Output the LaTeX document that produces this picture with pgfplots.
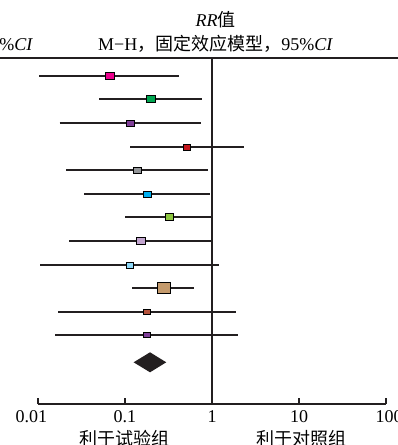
\documentclass[border=0pt]{standalone}
\usepackage{fontspec}
\setmainfont{Liberation Serif}
\newfontfamily\cjk{Noto Sans CJK SC}
\usepackage{pgfplots}
\pgfplotsset{compat=1.18}
\definecolor{lc}{HTML}{231F20}
\definecolor{c1}{HTML}{EC008C}
\definecolor{c2}{HTML}{00A651}
\definecolor{c3}{HTML}{7F3F98}
\definecolor{c4}{HTML}{C4161C}
\definecolor{c5}{HTML}{939598}
\definecolor{c6}{HTML}{00AEEF}
\definecolor{c7}{HTML}{8DC63F}
\definecolor{c8}{HTML}{C2A5CF}
\definecolor{c9}{HTML}{8ED8F8}
\definecolor{c10}{HTML}{C49A6C}
\definecolor{c11}{HTML}{B5533C}
\definecolor{c12}{HTML}{7F3F98}
% #1 y(px) #2 lo #3 est #4 hi #5 half-height #6 xscale #7 colour
\newcommand\row[7]{%
  \addplot[lc, line width=1.5pt] coordinates {(#2,-#1) (#4,-#1)};
  \addplot[only marks, mark=square*, mark size=#5pt,
    mark options={draw=none, fill=#7, xscale=#6}] coordinates {(#3,-#1)};
}
\begin{document}
\begin{tikzpicture}[font=\fontsize{18}{21.6}\selectfont]
\begin{axis}[
  scale only axis, width=348pt, height=346pt,
  xmode=log, xmin=0.01, xmax=100, ymin=-404, ymax=-58,
  clip=false,
  axis x line*=bottom, axis y line=none,
  x axis line style={line width=2pt, color=lc},
  xtick={0.01,0.1,1,10,100},
  xticklabels={\hspace*{-13pt}0.01,0.1,1,10,100\hspace*{-6pt}},
  xminorticks=false,
  tick align=inside, major tick length=6pt,
  every tick/.style={line width=2pt, color=lc},
  xticklabel style={anchor=base, yshift=-18.7pt, /pgf/number format/assume math mode=true, font=\fontsize{18}{21.6}\selectfont},
]
\addplot[lc, line width=2pt] coordinates {(0.002,-58) (300,-58)};
\addplot[lc, line width=2pt] coordinates {(1,-58) (1,-404)};
\row{76}{0.0104}{0.0665}{0.418}{3.5}{1.29}{c1}
\row{99}{0.0507}{0.197}{0.768}{3.5}{1.29}{c2}
\row{123}{0.0177}{0.115}{0.753}{3}{1.33}{c3}
\row{147}{0.115}{0.511}{2.35}{3}{1.17}{c4}
\row{170}{0.0211}{0.138}{0.907}{3}{1.33}{c5}
\row{194}{0.034}{0.179}{0.956}{3}{1.33}{c6}
\row{217}{0.1007}{0.323}{1.0}{3.5}{1.14}{c7}
\row{241}{0.0229}{0.151}{1.0}{3.5}{1.29}{c8}
\row{265}{0.0106}{0.113}{1.21}{3}{1.17}{c9}
\row{288}{0.121}{0.278}{0.621}{5.5}{1.18}{c10}
\row{312}{0.0171}{0.177}{1.90}{2.5}{1.4}{c11}
\row{335}{0.0158}{0.177}{2.01}{2.5}{1.4}{c12}
\addplot[draw=none, fill=lc] coordinates {(0.1256,-362.3) (0.194,-352.3) (0.298,-362.3) (0.194,-372.3)} -- cycle;
\end{axis}
\node[anchor=base] at (177.6pt,377.3pt) {\textit{RR}{\cjk 值}};
\node[anchor=base] at (177.6pt,353.3pt) {M−H{\cjk ，固定效应模型，}95\%\textit{CI}};
\node[anchor=base east, inner sep=0pt] at (-4.7pt,353.3pt) {95\%\textit{CI}};
\node[anchor=base] at (86.5pt,-41pt) {\cjk 利于试验组};
\node[anchor=base] at (263pt,-41pt) {\cjk 利于对照组};
\pgfresetboundingbox
\useasboundingbox (-38pt,-41pt) rectangle (360pt,404pt);
\end{tikzpicture}
\end{document}
